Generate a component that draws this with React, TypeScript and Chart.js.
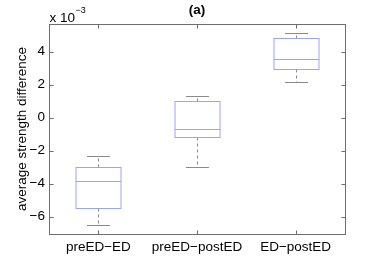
import React, { useEffect, useRef } from "react";
import { Chart, registerables } from "chart.js";

Chart.register(...registerables);

const categories = ["preED\u2212ED", "preED\u2212postED", "ED\u2212postED"];
const lowerWhisker = [-6.5, -2.97, 2.16];
const q1 = [-5.47, -1.15, 2.95];
const median = [-3.84, -0.67, 3.56];
const q3 = [-3.01, 1.03, 4.83];
const upperWhisker = [-2.32, 1.33, 5.13];
const yTicks = [-6, -4, -2, 0, 2, 4];
const yMin = -7.05;
const yMax = 5.68;

const FONT = "Liberation Sans, Arial, Helvetica, sans-serif";
const FS = 13.5;

const boxPlugin = {
  id: "boxDraw",
  afterDraw(chart: any) {
    const ctx = chart.ctx;
    const xs = chart.scales.x;
    const ys = chart.scales.y;
    const ca = chart.chartArea;
    const unit = xs.getPixelForValue(2) - xs.getPixelForValue(1);
    const bw = unit * 0.228;
    const cw = unit * 0.114;
    ctx.save();
    ctx.lineWidth = 1;
    categories.forEach((_, i) => {
      const cx = Math.round(xs.getPixelForValue(i + 1)) + 0.5;
      const yq1 = Math.round(ys.getPixelForValue(q1[i])) + 0.5;
      const yq3 = Math.round(ys.getPixelForValue(q3[i])) + 0.5;
      const ym = Math.round(ys.getPixelForValue(median[i])) + 0.5;
      const ylw = Math.round(ys.getPixelForValue(lowerWhisker[i])) + 0.5;
      const yuw = Math.round(ys.getPixelForValue(upperWhisker[i])) + 0.5;
      ctx.strokeStyle = "#8a8a8a";
      ctx.setLineDash([3, 3]);
      ctx.beginPath();
      ctx.moveTo(cx, yq3);
      ctx.lineTo(cx, yuw);
      ctx.moveTo(cx, yq1);
      ctx.lineTo(cx, ylw);
      ctx.stroke();
      ctx.setLineDash([]);
      ctx.beginPath();
      ctx.moveTo(Math.round(cx - cw), yuw);
      ctx.lineTo(Math.round(cx + cw), yuw);
      ctx.moveTo(Math.round(cx - cw), ylw);
      ctx.lineTo(Math.round(cx + cw), ylw);
      ctx.stroke();
      ctx.strokeStyle = "#98a2ff";
      ctx.strokeRect(Math.round(cx - bw), yq3, Math.round(2 * bw), yq1 - yq3);
      ctx.strokeStyle = "#f08c8c";
      ctx.beginPath();
      ctx.moveTo(Math.round(cx - bw), ym);
      ctx.lineTo(Math.round(cx + bw), ym);
      ctx.stroke();
    });
    const L = Math.round(ca.left) + 0.5;
    const R = Math.round(ca.right) + 0.5;
    const T = Math.round(ca.top) + 0.5;
    const B = Math.round(ca.bottom) + 0.5;
    ctx.strokeStyle = "#6e6e6e";
    ctx.strokeRect(L, T, R - L, B - T);
    ctx.beginPath();
    yTicks.forEach((t) => {
      const y = Math.round(ys.getPixelForValue(t)) + 0.5;
      ctx.moveTo(L, y);
      ctx.lineTo(L + 4, y);
      ctx.moveTo(R, y);
      ctx.lineTo(R - 4, y);
    });
    categories.forEach((_, i) => {
      const x = Math.round(xs.getPixelForValue(i + 1)) + 0.5;
      ctx.moveTo(x, T);
      ctx.lineTo(x, T + 4);
      ctx.moveTo(x, B);
      ctx.lineTo(x, B - 4);
    });
    ctx.stroke();
    ctx.fillStyle = "#000";
    ctx.textBaseline = "alphabetic";
    ctx.textAlign = "left";
    ctx.font = FS + "px " + FONT;
    ctx.fillText("x 10", L, 22);
    const w = ctx.measureText("x 10").width;
    ctx.font = "9px " + FONT;
    ctx.fillText("\u22123", L + w + 0.5, 13);
    ctx.font = "bold " + FS + "px " + FONT;
    ctx.textAlign = "center";
    ctx.fillText("(a)", (ca.left + ca.right) / 2, 14);
    ctx.restore();
  },
};

export default function App() {
  const ref = useRef<HTMLCanvasElement>(null);
  useEffect(() => {
    document.body.style.margin = "0";
    const chart = new Chart(ref.current!, {
      type: "scatter",
      data: { datasets: [{ data: [], showLine: false }] },
      options: {
        animation: false,
        responsive: false,
        maintainAspectRatio: false,
        layout: { padding: { top: 24, right: 37, bottom: 0, left: 0 } },
        plugins: { legend: { display: false }, tooltip: { enabled: false }, title: { display: false } },
        scales: {
          x: {
            type: "linear",
            min: 0.5,
            max: 3.5,
            afterBuildTicks: (s: any) => {
              s.ticks = categories.map((_, i) => ({ value: i + 1 }));
            },
            afterFit: (s: any) => {
              s.height = 38;
            },
            grid: { display: false, drawTicks: false },
            border: { display: false },
            ticks: {
              callback: (v: any) => categories[Math.round(v) - 1] ?? "",
              color: "#000",
              font: { family: FONT, size: FS },
              padding: 5,
              maxRotation: 0,
              autoSkip: false,
            },
          },
          y: {
            type: "linear",
            min: yMin,
            max: yMax,
            afterBuildTicks: (s: any) => {
              s.ticks = yTicks.map((v) => ({ value: v }));
            },
            afterFit: (s: any) => {
              s.width = 49;
            },
            grid: { display: false, drawTicks: false },
            border: { display: false },
            title: {
              display: true,
              text: "average strength difference",
              color: "#000",
              font: { family: FONT, size: FS },
              padding: { top: 14, bottom: 0 },
            },
            ticks: {
              callback: (v: any) => (v < 0 ? "\u2212" + Math.abs(v) : String(v)),
              color: "#000",
              font: { family: FONT, size: FS },
              padding: 4,
            },
          },
        },
      },
      plugins: [boxPlugin],
    } as any);
    return () => chart.destroy();
  }, []);
  return (
    <div style={{ width: 382, height: 272, background: "#fff" }}>
      <canvas ref={ref} width={382} height={272} style={{ width: 382, height: 272 }} />
    </div>
  );
}
